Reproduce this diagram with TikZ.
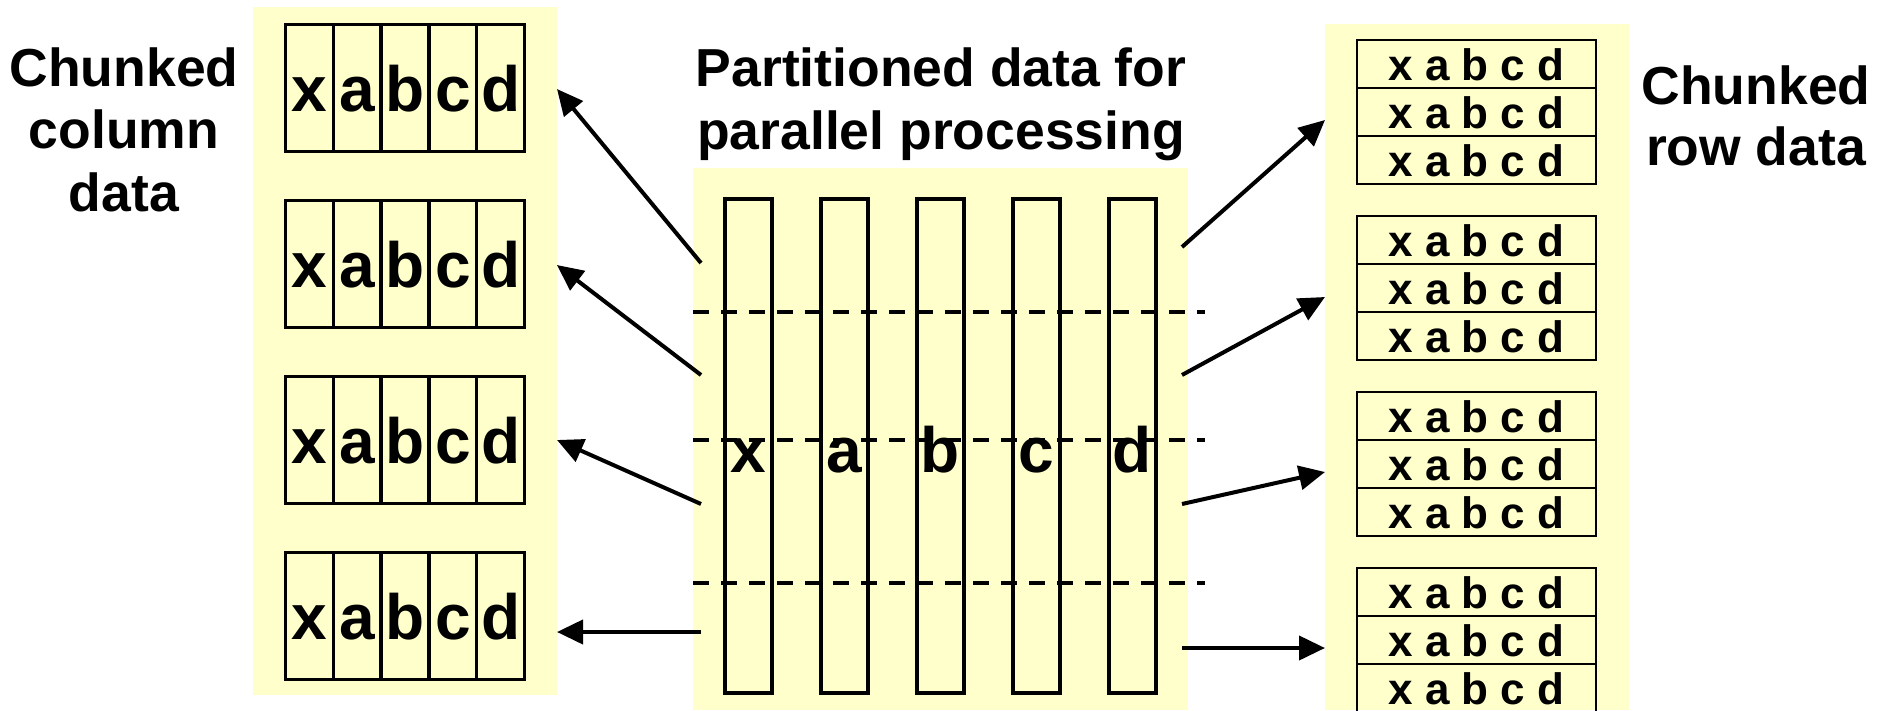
\documentclass[tikz,border=0pt]{standalone}
\usepackage{fontspec}
\setmainfont{Liberation Sans}
\usetikzlibrary{arrows.meta}
\definecolor{pale}{RGB}{255,255,204}
\begin{document}
\begin{tikzpicture}[x=1pt,y=-1pt,
  bg/.style={fill=pale},
  bigcell/.style={draw, line width=3.3pt, minimum width=47.8pt, minimum height=127pt, inner sep=0pt,
    text height=47pt, text depth=0pt, font=\fontsize{64}{64}\selectfont\bfseries},
  colbox/.style={draw, line width=4pt, minimum width=47pt, minimum height=494pt, inner sep=0pt},
  colletter/.style={anchor=base, inner sep=0pt, font=\fontsize{64}{64}\selectfont\bfseries},
  rowcell/.style={draw, line width=2.5pt, minimum width=239pt, minimum height=48pt, inner sep=0pt,
    text height=32pt, text depth=0pt, font=\fontsize{44}{44}\selectfont\bfseries},
  title/.style={anchor=base, inner sep=0pt, font=\fontsize{53.5}{60}\selectfont\bfseries},
  partline/.style={line width=3.5pt, dash pattern=on 16pt off 12pt},
  arr/.style={line width=4pt, -{Triangle[length=26pt,width=24pt]}}
]
\useasboundingbox (0,0) rectangle (1885,710);
\clip (0,0) rectangle (1885,710);
% backgrounds
\fill[bg] (253,7) rectangle (557,695);
\fill[bg] (693,168) rectangle (1188,710);
\fill[bg] (1325,24) rectangle (1629,710);
% titles
\node[title] (tl1) at (124,86) {Chunked};
\node[title] (tl2) at (124,148) {column};
\node[title] (tl3) at (124,211) {data};
\node[title] (tc1) at (941,86) {Partitioned data for};
\node[title] (tc2) at (941,149) {parallel processing};
\node[title] (tr1) at (1756,104) {Chunked};
\node[title] (tr2) at (1756,165) {row data};
% left chunked column boxes
\foreach \k/\y in {1/88,2/264,3/440,4/616}{
  \foreach \l [count=\i from 0] in {x,a,b,c,d}{
    \node[bigcell] (L\k\l) at ({309.4+47.8*\i},\y) {\l};
  }
}
% center partitioned columns
\foreach \l [count=\i from 0] in {x,a,b,c,d}{
  \node[colbox] (C\l) at ({748.5+96*\i},446) {};
  \node[colletter] (CL\l) at ({748.5+96*\i},472) {\l};
}
% partition lines
\foreach \y [count=\j] in {312,440,583}{
  \coordinate (P\j a) at (693,\y);
  \coordinate (P\j b) at (1205,\y);
  \draw[partline] (P\j a) -- (P\j b);
}
% right chunked row boxes
\foreach \k/\y in {1/40,2/216,3/392,4/568}{
  \foreach \r in {1,2,3}{
    \node[rowcell] (R\k\r) at (1476.5,{\y+48*\r-24}) {x a b c d};
  }
}
% arrows left
\coordinate (ls1) at (701,263); \coordinate (lt1) at (557,89);
\coordinate (ls2) at (701,375); \coordinate (lt2) at (557,265);
\coordinate (ls3) at (701,504); \coordinate (lt3) at (557,440);
\coordinate (ls4) at (701,632); \coordinate (lt4) at (557,632);
\foreach \i in {1,2,3,4}{ \draw[arr] (ls\i) -- (lt\i); }
% arrows right
\coordinate (rs1) at (1182,247); \coordinate (rt1) at (1325,120);
\coordinate (rs2) at (1182,375); \coordinate (rt2) at (1325,297);
\coordinate (rs3) at (1182,504); \coordinate (rt3) at (1325,472);
\coordinate (rs4) at (1182,648); \coordinate (rt4) at (1325,648);
\foreach \i in {1,2,3,4}{ \draw[arr] (rs\i) -- (rt\i); }
\end{tikzpicture}
\end{document}
